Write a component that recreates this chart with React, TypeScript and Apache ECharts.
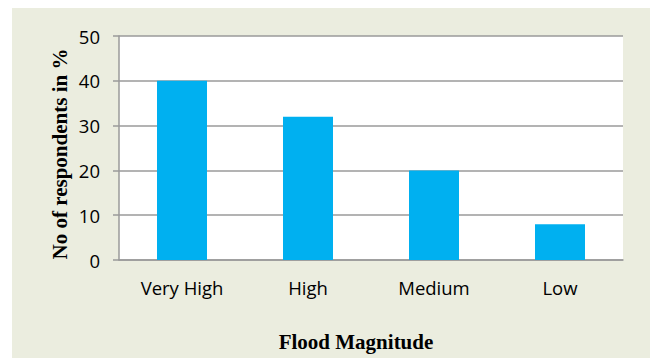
import React, { useEffect, useRef } from "react";
import * as echarts from "echarts";

const categories = ["Very High", "High", "Medium", "Low"];
const respondents = [40, 32, 20, 8];
const yTicks = { min: 0, max: 50, interval: 10 };

export default function App() {
  const ref = useRef<HTMLDivElement>(null);

  useEffect(() => {
    if (!ref.current) return;
    const chart = echarts.init(ref.current, undefined, { renderer: "svg" });
    const titleFont = "bold 21px 'Liberation Serif', 'Times New Roman', serif";
    const labelFont = "'Open Sans', 'Noto Sans', sans-serif";
    chart.setOption({
      animation: false,
      backgroundColor: "#ffffff",
      graphic: [
        {
          type: "rect",
          z: -10,
          silent: true,
          shape: { x: 12, y: 8, width: 638, height: 350 },
          style: { fill: "#ebeddf" },
        },
        {
          type: "rect",
          z: -5,
          silent: true,
          shape: { x: 119, y: 36, width: 504, height: 224 },
          style: { fill: "#ffffff" },
        },
        {
          type: "text",
          x: 60,
          y: 154,
          rotation: Math.PI / 2,
          style: {
            text: "No of respondents in %",
            font: titleFont,
            fill: "#000",
            align: "center",
            verticalAlign: "middle",
          },
        },
        {
          type: "text",
          x: 356,
          y: 342,
          style: {
            text: "Flood Magnitude",
            font: titleFont,
            fill: "#000",
            align: "center",
            verticalAlign: "middle",
          },
        },
      ],
      grid: { left: 119, right: 27, top: 36, bottom: 98, containLabel: false },
      xAxis: {
        type: "category",
        data: categories,
        axisLine: { show: true, lineStyle: { color: "#9a9a9a", width: 1.5 } },
        axisTick: { show: false },
        axisLabel: {
          color: "#000",
          fontFamily: labelFont,
          fontSize: 18.5,
          margin: 18,
        },
      },
      yAxis: {
        type: "value",
        min: yTicks.min,
        max: yTicks.max,
        interval: yTicks.interval,
        axisLine: { show: true, lineStyle: { color: "#9a9a9a", width: 1.5 } },
        axisTick: { show: true, length: 6, lineStyle: { color: "#9a9a9a", width: 1.5 } },
        splitLine: { show: true, lineStyle: { color: "#9a9a9a", width: 1.5 } },
        axisLabel: {
          color: "#000",
          fontFamily: labelFont,
          fontSize: 18.5,
          margin: 19,
        },
      },
      series: [
        {
          type: "bar",
          data: respondents,
          barWidth: 50,
          itemStyle: { color: "#00b0f0" },
        },
      ],
    });
    return () => chart.dispose();
  }, []);

  return (
    <div
      ref={ref}
      style={{ position: "fixed", left: 0, top: 0, width: 650, height: 358 }}
    />
  );
}
